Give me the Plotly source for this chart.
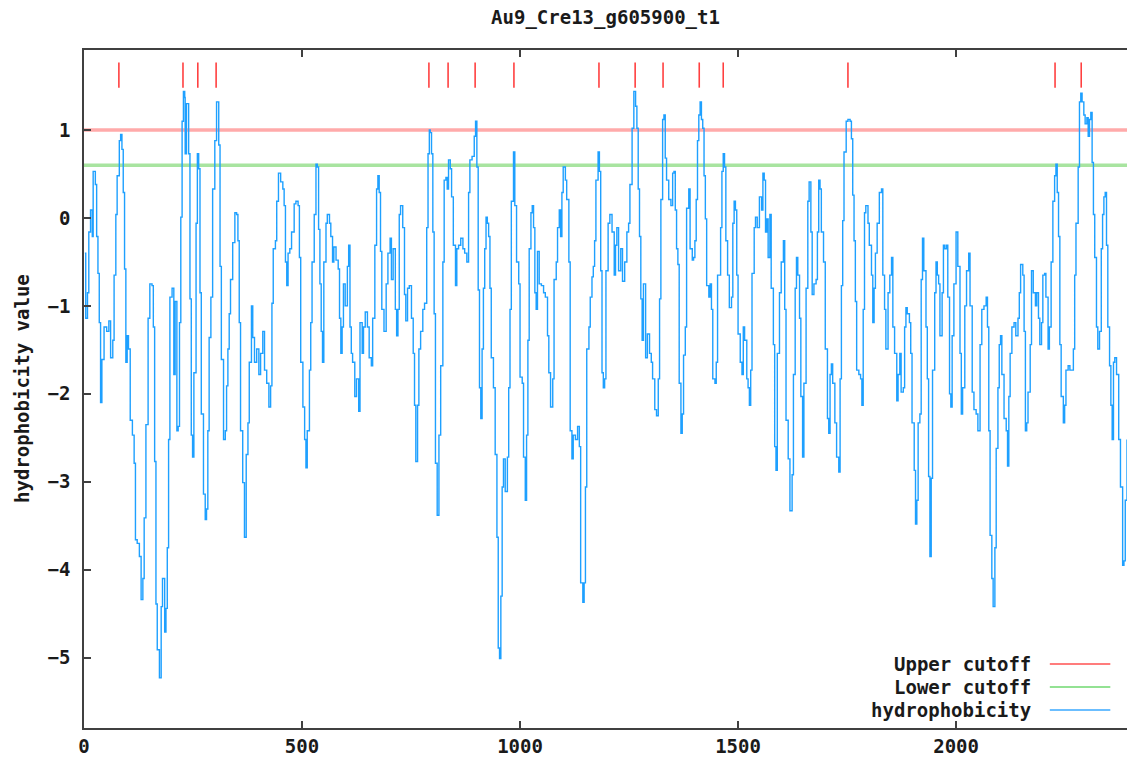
import plotly.graph_objects as go

title_text = "Au9_Cre13_g605900_t1"
y_title = "hydrophobicity value"
x_ticks = [0, 500, 1000, 1500, 2000]
y_ticks = [-5, -4, -3, -2, -1, 0, 1]
x_max = 2392
y_range = [-5.8, 1.91]
upper_cutoff = 1.0
lower_cutoff = 0.6
legend_names = ["Upper cutoff", "Lower cutoff", "hydrophobicity"]

# positions flagged above the upper cutoff (red tick marks)
flag_positions = [80, 227, 261, 303, 791, 835, 897, 986, 1181, 1264, 1328,
                  1411, 1466, 1752, 2227, 2287]
flag_level = 1.625

residue = [
    2, 4, 8, 11, 15, 19, 21, 26, 29, 32, 35, 38, 41, 46, 52, 57, 61, 66, 69, 73,
    76, 81, 84, 87, 90, 93, 96, 99, 102, 106, 111, 115, 118, 122, 127, 131, 135, 138, 142, 147,
    151, 156, 159, 162, 165, 168, 173, 177, 180, 185, 188, 191, 194, 197, 202, 206, 209, 213, 216, 219,
    222, 225, 228, 231, 232, 235, 240, 243, 246, 249, 252, 257, 260, 263, 266, 269, 274, 278, 281, 284,
    287, 291, 295, 300, 304, 307, 309, 312, 315, 320, 324, 327, 330, 333, 336, 341, 346, 350, 353, 356,
    359, 364, 368, 372, 376, 379, 384, 387, 391, 396, 401, 405, 410, 414, 419, 424, 428, 431, 434, 439,
    442, 446, 451, 456, 459, 462, 465, 468, 472, 476, 482, 486, 491, 494, 497, 502, 506, 509, 512, 517,
    520, 523, 528, 532, 535, 538, 541, 544, 547, 550, 555, 558, 563, 566, 570, 573, 578, 583, 586, 589,
    592, 595, 599, 604, 607, 610, 613, 616, 621, 625, 630, 633, 638, 641, 645, 650, 654, 659, 662, 667,
    671, 674, 677, 680, 683, 688, 693, 697, 702, 705, 709, 714, 717, 720, 723, 726, 731, 735, 738, 742,
    746, 751, 755, 758, 761, 765, 768, 772, 777, 781, 786, 789, 792,
    794, 797, 800, 803, 806, 810, 814, 818, 823, 826, 830, 833, 836, 840, 843, 847, 852, 855, 859, 864,
    869, 873, 878, 882, 885, 890, 895, 898, 901, 904, 907, 910, 913, 916, 919, 922, 925, 928, 931, 934,
    939, 943, 947, 950, 953, 956, 959, 962, 966, 971, 974, 977, 980, 985, 988, 992, 997, 1000, 1005, 1008,
    1012, 1015, 1018, 1021, 1025, 1028, 1031, 1034, 1037, 1040, 1044, 1049, 1054, 1058, 1063, 1066, 1070, 1075, 1078, 1083,
    1086, 1090, 1093, 1096, 1099, 1104, 1107, 1112, 1115, 1119, 1122, 1127, 1132, 1136, 1139, 1144, 1147, 1150, 1153, 1158,
    1161, 1165, 1168, 1171, 1174, 1179, 1182, 1185, 1188, 1191, 1194, 1197, 1202, 1206, 1211, 1216, 1219, 1222, 1226, 1231,
    1235, 1240, 1245, 1249, 1252, 1257, 1261, 1265, 1268, 1271, 1274, 1277, 1280, 1283, 1288, 1292, 1297, 1301, 1304, 1309,
    1313, 1317, 1320, 1323, 1327, 1330, 1333, 1336, 1341, 1346, 1350, 1353, 1356, 1359, 1362, 1365, 1369, 1372, 1375, 1379,
    1382, 1387, 1390, 1395, 1398, 1401, 1404, 1407, 1410, 1413, 1416, 1419, 1422, 1425, 1428, 1433, 1436, 1439, 1442, 1447,
    1450, 1453, 1457, 1460, 1463, 1466, 1469, 1472, 1476, 1480, 1485, 1488, 1491, 1494, 1497, 1500, 1505, 1509, 1512, 1515,
    1520, 1523, 1526, 1529, 1532, 1537, 1540, 1544, 1549, 1554, 1557, 1560, 1563, 1566, 1569, 1573, 1576, 1581, 1584,
    1587, 1590, 1595, 1599, 1604, 1607, 1610, 1615, 1619, 1624, 1627, 1631, 1634, 1637, 1641, 1644, 1648, 1651, 1656, 1660,
    1663, 1667, 1670, 1674, 1679, 1682, 1685, 1688, 1691, 1696, 1700, 1705, 1708, 1711, 1714, 1717, 1722, 1726, 1731, 1734,
    1737, 1740, 1743, 1748, 1752, 1757, 1760, 1763, 1766, 1769, 1772, 1777, 1781, 1784, 1787, 1790, 1793, 1798, 1801, 1806,
    1809, 1812, 1815, 1819, 1824, 1829, 1832, 1836, 1839, 1844, 1848, 1852, 1855, 1859, 1864, 1867, 1871, 1874, 1879, 1882,
    1885, 1888, 1893, 1896, 1899, 1904, 1907, 1910, 1913, 1917, 1920, 1923, 1926, 1931, 1934, 1937, 1940, 1943, 1946, 1951,
    1954, 1957, 1960, 1963, 1968, 1971, 1974, 1978, 1981, 1985, 1988, 1991, 1995, 2000, 2004, 2009, 2012, 2015, 2020, 2024,
    2029, 2032, 2037, 2041, 2046, 2050, 2055, 2059, 2064, 2069, 2072, 2075, 2078, 2082, 2085, 2089, 2092, 2096, 2099, 2102,
    2105, 2110, 2115, 2118, 2121, 2124, 2128, 2133, 2137, 2142, 2145, 2148, 2153, 2156, 2159, 2162, 2165, 2170, 2173, 2177,
    2182, 2185, 2189, 2192, 2196, 2199, 2203, 2206, 2211, 2214, 2218, 2222, 2226, 2229, 2232, 2235, 2238, 2241, 2246, 2249,
    2252, 2257, 2261, 2266, 2269, 2272, 2275, 2280, 2283, 2286, 2289, 2293, 2296, 2300, 2303, 2306, 2309, 2312, 2315, 2318,
    2322, 2325, 2329, 2333, 2336, 2339, 2342, 2345, 2348, 2352, 2355, 2358, 2361, 2364, 2368, 2373, 2377, 2382, 2385, 2388,
    2392,
]

hydro = [
    -0.40, -1.14, -0.85, -0.16, 0.09, -0.21, 0.53, 0.38, -0.21, -0.63, -1.19, -2.10, -1.61, -1.24, -1.29, -1.17, -1.59, -1.39, -0.65, 0.04,
    0.48, 0.88, 0.95, 0.78, 0.29, -0.58, -1.64, -1.34, -1.49, -2.30, -2.47, -2.79, -3.66, -3.70, -3.85, -4.34, -4.10, -3.41, -2.35, -1.14,
    -0.75, -0.77, -1.24, -2.77, -4.39, -4.91, -5.23, -4.42, -4.10, -4.71, -4.44, -3.75, -2.52, -0.90, -0.80, -1.78, -0.95, -2.42, -2.37, -1.19,
    0.01, 1.10, 1.44, 1.37, 0.73, 1.30, 0.73, -0.92, -2.47, -2.72, -1.76, -0.06, 0.73, 0.56, -0.85, -2.23, -3.14, -3.43, -3.31, -2.42,
    -1.36, -0.90, 0.33, 0.88, 1.32, 1.32, 0.83, -0.55, -1.61, -2.52, -2.42, -1.91, -1.49, -1.09, -0.70, -0.28, 0.06, 0.04, -0.26, -1.19,
    -2.42, -3.01, -3.63, -2.69, -2.33, -1.64, -1.00, -1.36, -1.64, -1.49, -1.78, -1.54, -1.29, -1.73, -1.88, -2.15, -1.91, -0.97, -0.35, -0.26,
    0.19, 0.51, 0.41, 0.33, 0.14, -0.50, -0.77, -0.40, -0.35, -0.16, 0.16, 0.19, 0.14, -0.45, -1.64, -2.15, -2.52, -2.84, -2.42, -1.73,
    -1.19, -0.50, 0.04, 0.61, 0.58, -0.13, -0.75, -1.29, -1.64, -0.50, -0.06, 0.04, -0.06, -0.21, -0.50, -0.33, -0.48, -0.58, -1.14, -1.54,
    -1.24, -0.75, -1.00, -0.55, -0.31, -1.24, -1.54, -1.64, -2.03, -1.83, -2.20, -1.19, -1.54, -1.24, -1.07, -1.24, -1.59, -1.68, -1.14, -0.31,
    0.33, 0.48, 0.29, -0.38, -1.04, -1.29, -0.75, -0.40, -0.23, -0.70, -0.35, -1.04, -1.34, -1.04, 0.04, 0.14, -0.11, -0.87, -1.17, -0.80,
    -0.77, -1.14, -1.54, -2.13, -2.77, -2.13, -1.49, -1.29, -1.04, -0.97, -0.11, 0.73, 1.00,
    0.97, 0.73, -0.16, -1.09, -2.79, -3.38, -2.47, -1.68, -0.50, 0.43, 0.46, 0.33, 0.66, 0.56, 0.24, -0.31, -0.77, -0.35, -0.31, -0.23,
    -0.35, -0.40, -0.50, 0.29, 0.66, 0.70, 0.93, 1.10, 0.58, -0.82, -1.93, -2.28, -1.49, -0.80, -0.35, 0.01, -0.06, -0.21, -0.80, -1.59,
    -1.93, -2.69, -3.63, -4.89, -5.01, -4.30, -3.06, -2.74, -3.11, -2.72, -1.93, -1.04, 0.19, 0.75, 0.14, -0.50, -0.75, -1.81, -1.88, -2.72,
    -3.21, -2.47, -1.39, -0.35, 0.06, 0.14, -0.11, -0.85, -1.04, -0.38, -0.75, -0.77, -0.85, -0.90, -1.34, -1.76, -2.15, -1.83, -0.70, -0.50,
    -0.11, 0.09, -0.21, 0.29, 0.58, 0.43, 0.21, -0.50, -2.42, -2.74, -2.47, -2.52, -2.37, -2.60, -4.15, -4.37, -4.15, -3.06, -1.49, -1.24,
    -0.90, -0.67, -0.55, -0.26, 0.43, 0.75, 0.53, -0.60, -1.76, -1.93, -1.83, -0.60, -0.06, 0.04, -0.16, -0.65, -0.31, -0.11, -0.60, -0.35,
    -0.72, -0.50, -0.16, -0.06, 0.38, 1.02, 1.44, 1.27, 1.02, 0.33, -0.21, -0.92, -1.39, -0.75, -1.59, -1.32, -1.54, -1.64, -1.83, -2.18,
    -2.25, -1.83, -0.92, 0.21, 1.12, 1.17, 0.68, 0.43, 0.21, 0.14, 0.51, 0.53, 0.09, -0.35, -0.53, -1.88, -2.45, -2.23, -1.56, -1.24,
    0.11, 0.33, -0.35, -0.48, -0.45, -0.26, 0.21, 0.88, 1.17, 1.32, 1.12, 1.02, 0.48, -0.01, -0.77, -0.90, -0.75, -1.04, -1.83, -1.88,
    -1.64, -0.65, -0.65, -0.11, 0.53, 0.73, 0.58, -0.26, -0.65, -1.02, -0.90, -0.06, 0.19, 0.09, -0.65, -1.32, -1.64, -1.78, -1.24, -1.39,
    -1.83, -1.93, -2.13, -1.73, -0.63, -0.11, 0.01, -0.11, 0.24, 0.09, 0.51, 0.43, -0.16, -0.01, -0.45, 0.04, -0.80, -1.44, -2.60,
    -2.87, -1.54, -0.85, -0.50, -0.26, -1.04, -2.30, -2.74, -3.33, -2.92, -1.78, -0.80, -0.45, -0.65, -1.14, -2.03, -2.72, -1.88, -0.80, 0.19,
    0.41, -0.16, -0.87, -0.75, -0.70, -0.16, 0.43, 0.33, -0.16, -0.50, -1.49, -2.28, -2.45, -1.78, -1.66, -1.88, -2.33, -2.72, -2.89, -1.83,
    -0.77, -0.03, 0.75, 1.10, 1.12, 1.10, 0.90, 0.26, -0.26, -0.95, -1.73, -1.78, -1.83, -2.13, -1.04, 0.06, 0.14, -0.06, -0.31, -0.65,
    -1.19, -0.80, -0.40, -0.06, 0.29, 0.33, -0.65, -1.04, -1.49, -0.85, -0.65, -0.45, -1.24, -1.54, -2.08, -1.78, -1.54, -1.98, -1.93, -1.24,
    -1.02, -1.09, -1.19, -1.54, -2.33, -2.87, -3.48, -3.21, -2.33, -2.23, -0.70, -0.23, -0.60, -1.24, -1.83, -2.94, -3.85, -2.96, -1.73, -0.85,
    -0.50, -0.65, -0.75, -1.34, -0.85, -0.31, -0.35, -0.31, -0.90, -2.00, -2.15, -1.34, -0.75, -0.16, -0.55, -1.54, -2.23, -1.93, -1.00, -0.60,
    -0.40, -1.00, -1.98, -2.18, -2.23, -2.42, -1.44, -1.04, -1.00, -0.90, -1.24, -2.42, -3.61, -4.10, -4.42, -3.75, -2.62, -1.93, -1.44, -1.34,
    -1.78, -2.28, -2.42, -2.82, -2.03, -1.54, -1.24, -1.19, -1.34, -1.14, -0.85, -0.53, -0.65, -1.29, -2.42, -2.33, -1.98, -1.44, -0.60, -0.85,
    -1.00, -0.85, -1.14, -1.44, -1.19, -0.65, -0.63, -0.90, -1.49, -1.24, -0.50, 0.19, 0.48, 0.61, 0.29, -0.21, -1.44, -2.03, -2.33, -2.13,
    -1.73, -1.68, -1.73, -1.73, -1.49, -0.65, -0.06, 0.58, 1.32, 1.42, 1.32, 1.17, 1.07, 1.14, 0.93, 1.12, 1.20, 0.63, 0.04, -0.45,
    -1.24, -1.49, -1.29, -0.35, 0.04, 0.24, 0.29, -0.31, -1.24, -1.68, -2.13, -2.52, -1.64, -1.59, -1.78, -2.52, -3.06, -3.95, -3.90, -3.21,
    -2.52,
]

font_family = "DejaVu Sans Mono"
text_color = "#1a1a1a"
upper_color = "#ffaaaa"
lower_color = "#a8e4a0"
hydro_color = "#1ea0ff"
fsize = 19

fig = go.Figure()

fig.add_trace(go.Scatter(
    x=[0, x_max], y=[upper_cutoff, upper_cutoff], mode="lines",
    line=dict(color=upper_color, width=3.5), showlegend=False, hoverinfo="skip"))
fig.add_trace(go.Scatter(
    x=[0, x_max], y=[lower_cutoff, lower_cutoff], mode="lines",
    line=dict(color=lower_color, width=3.5), showlegend=False, hoverinfo="skip"))
fig.add_trace(go.Scatter(
    x=flag_positions, y=[flag_level] * len(flag_positions), mode="markers",
    marker=dict(symbol="line-ns", size=18, line=dict(color="#ff4040", width=1.6)),
    showlegend=False, hoverinfo="skip"))
fig.add_trace(go.Scatter(
    x=residue, y=hydro, mode="lines",
    line=dict(color=hydro_color, width=1.4, shape="hv"), showlegend=False))

# gnuplot-style key: text on the left, line sample on the right
key_colors = ["#ff5050", "#6fd86f", "#3aa8ff"]
key_rows = [0.0944, 0.0605, 0.0265]
annotations = []
shapes = []
for name, col, yy in zip(legend_names, key_colors, key_rows):
    annotations.append(dict(
        text=name, x=0.910, y=yy, xref="paper", yref="paper",
        xanchor="right", yanchor="middle", showarrow=False,
        font=dict(family=font_family, size=fsize, color=text_color, weight="bold")))
    shapes.append(dict(
        type="line", xref="paper", yref="paper", x0=0.926, x1=0.984, y0=yy, y1=yy,
        line=dict(color=col, width=1.5)))

annotations.append(dict(
    text=y_title, x=-62 / 1043, y=0.5, xref="paper", yref="paper", showarrow=False,
    textangle=-90, xanchor="center", yanchor="middle",
    font=dict(family=font_family, size=fsize, color=text_color, weight="bold")))

fig.update_layout(
    width=1127, height=761,
    margin=dict(l=84, r=0, t=50, b=33),
    paper_bgcolor="white", plot_bgcolor="white",
    title=dict(text=title_text, x=0.5, xref="paper", y=1 - 17 / 761, yanchor="middle",
               font=dict(family=font_family, size=fsize, color=text_color, weight="bold")),
    annotations=annotations, shapes=shapes,
    showlegend=False,
    xaxis=dict(range=[0, x_max], tickvals=x_ticks, ticks="inside", ticklen=7,
               tickcolor="#404040", tickwidth=1.5,
               showline=True, linecolor="#404040", linewidth=1.5, mirror="ticks",
               showgrid=False, zeroline=False,
               tickfont=dict(family=font_family, size=fsize, color=text_color, weight="bold")),
    yaxis=dict(range=y_range, tickvals=y_ticks, ticks="inside", ticklen=7,
               tickcolor="#404040", tickwidth=1.5,
               showline=True, linecolor="#404040", linewidth=1.5,
               showgrid=False, zeroline=False, ticklabelstandoff=8,
               tickfont=dict(family=font_family, size=fsize, color=text_color, weight="bold")),
)

fig.write_html(
    "out.html",
    config={"displayModeBar": False},
    post_script="document.body.style.margin='0';document.body.style.overflow='hidden';",
)
